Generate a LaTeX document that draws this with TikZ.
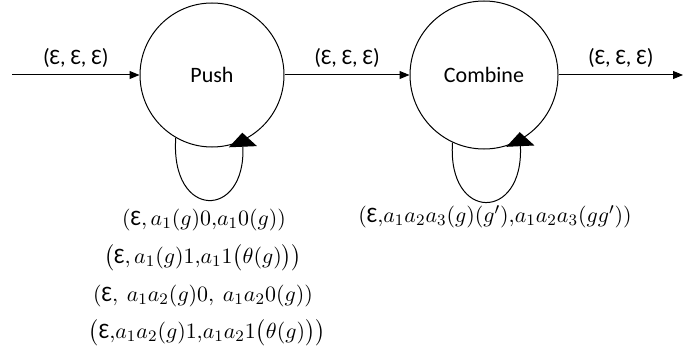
\documentclass[tikz,border=0pt]{standalone}
\usepackage{amsmath}
\usepackage{fontspec}
\setmainfont{Carlito}
\usetikzlibrary{arrows.meta}

\newcommand{\veps}{\text{Ɛ}}

\begin{document}
\begin{tikzpicture}[x=0.5pt,y=-0.5pt,
            state/.style={draw,circle,minimum size=72pt,inner sep=0pt,line width=0.5pt,
                font=\fontsize{11}{13}\selectfont},
            arrowline/.style={-{Triangle[length=5pt,width=4pt]},line width=0.5pt},
            loopedge/.style={-{Triangle[length=7pt,width=14pt]},line width=0.5pt,shorten >=-4pt},
            edgelabel/.style={font=\fontsize{11}{13}\selectfont},
            rulelabel/.style={font=\fontsize{11}{13}\selectfont,inner sep=0.5pt}]
            \useasboundingbox (0,0) rectangle (685,358);
            \coordinate (in) at (12,75);
            \node[state] (push) at (212,75) {Push};
            \node[state,minimum size=74pt] (combine) at (484,75) {Combine};
            \coordinate (out) at (683,75);
            \draw[arrowline] (in) -- node[edgelabel,above]{(Ɛ, Ɛ, Ɛ)} (push);
            \draw[arrowline] (push) -- node[edgelabel,above]{(Ɛ, Ɛ, Ɛ)} (combine);
            \draw[arrowline] (combine) -- node[edgelabel,above]{(Ɛ, Ɛ, Ɛ)} (out);
            \draw[loopedge] (push.240) .. controls (170,220) and (246,220) .. (push.-65);
            \draw[loopedge] (combine.245) .. controls (447,222) and (524,222) .. (combine.-61);
            \node[rulelabel] (pushrule1) at (204,220) {$(\veps, a_1(g)0{,}a_1 0(g))$};
            \node[rulelabel] (pushrule2) at (203,258) {$\bigl(\veps, a_1(g)1{,}a_1 1\bigl(\theta(g)\bigr)\bigr)$};
            \node[rulelabel] (pushrule3) at (203,296) {$(\veps,\ a_1a_2(g)0,\ a_1a_2 0(g))$};
            \node[rulelabel] (pushrule4) at (207,333) {$\bigl(\veps{,}a_1a_2(g)1{,}a_1a_2 1\bigl(\theta(g)\bigr)\bigr)$};
            \node[rulelabel] (combinerule) at (495,217) {$(\veps{,}a_1a_2a_3(g)(g'){,}a_1a_2a_3(gg'))$};
\end{tikzpicture}
\end{document}
